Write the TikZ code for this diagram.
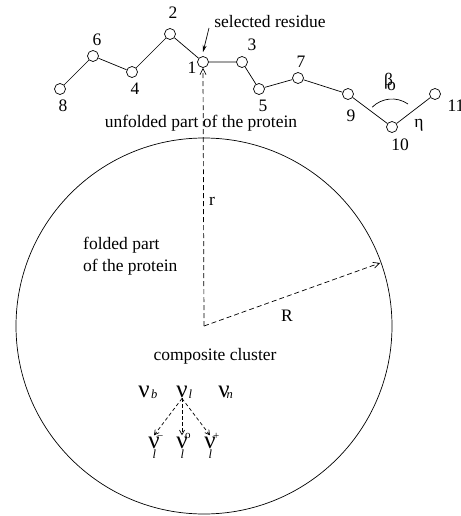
\documentclass[tikz,border=0pt]{standalone}
\usepackage{fontspec}
\setmainfont{Liberation Serif}
\usetikzlibrary{arrows.meta}
\newcommand{\bignu}{{\fontsize{25}{25}\selectfont ν}}
\newcommand{\nuTop}[2]{\bignu\rlap{\smash{\kern#2\raisebox{-1pt}{\fontsize{12.5}{12.5}\selectfont\itshape #1}}}}
\newcommand{\nuLow}[2]{\bignu\rlap{\smash{\kern-2.5pt\raisebox{#2}{\fontsize{11}{11}\selectfont #1}}}\rlap{\smash{\kern-7pt\raisebox{-10.5pt}{\fontsize{12.5}{12.5}\selectfont\itshape l}}}}
\begin{document}
\begin{tikzpicture}[x=1pt,y=1pt,
  font=\fontsize{17.5}{21}\selectfont,
  ln/.style={line width=0.7pt},
  res/.style={circle,draw,line width=0.7pt,fill=white,inner sep=0pt,minimum size=11pt},
  num/.style={inner sep=0pt},
  txt/.style={inner sep=0pt,anchor=base},
  dsh/.style={line width=0.7pt,dash pattern=on 5pt off 3pt},
  sdsh/.style={line width=0.7pt,dash pattern=on 3.5pt off 2.5pt},
  opentip/.style={-{Straight Barb[length=6pt,width=6pt]}},
  smalltip/.style={-{Straight Barb[length=4.5pt,width=5pt]}},
  nu/.style={inner sep=1pt,anchor=base}
]
\useasboundingbox (0,0) rectangle (460,-516);
% big circle
\coordinate (O) at (204,-326);
\draw[ln] (O) circle[radius=188];
% residues
\node[res] (r1) at (203,-62) {};
\node[res] (r2) at (170,-34) {};
\node[res] (r3) at (242,-62) {};
\node[res] (r4) at (132,-72) {};
\node[res] (r5) at (259,-89) {};
\node[res] (r6) at (93,-56) {};
\node[res] (r7) at (298,-78) {};
\node[res] (r8) at (60,-89) {};
\node[res] (r9) at (348,-94) {};
\node[res] (r10) at (392,-127) {};
\node[res] (r11) at (435,-94) {};
\draw[ln] (r8) -- (r6) -- (r4) -- (r2) -- (r1) -- (r3) -- (r5) -- (r7) -- (r9) -- (r10) -- (r11);
% residue numbers
\node[num] (l1) at (192,-68) {1};
\node[num] (l2) at (173,-13) {2};
\node[num] (l3) at (252,-45) {3};
\node[num] (l4) at (135,-89) {4};
\node[num] (l5) at (263,-106) {5};
\node[num] (l6) at (97,-40) {6};
\node[num] (l7) at (301,-62) {7};
\node[num] (l8) at (63,-106) {8};
\node[num] (l9) at (351,-116) {9};
\node[num] (l10) at (400,-145) {10};
\node[num] (l11) at (456,-106) {11};
% angle
\draw[ln] ([shift={(135:28)}]r10.center) arc[start angle=135,end angle=55,radius=28];
\node[inner sep=0pt,anchor=base west] (beta) at (384,-86) {β\kern-6pt\raisebox{-5pt}{o}};
\node[txt] (eta) at (419,-127) {η};
% selected residue
\node[txt] (sel) at (270,-28) {selected residue};
\coordinate (selfrom) at (209,-28);
\draw[ln,-{Stealth[length=7pt,width=4pt]}] (selfrom) -- ([yshift=4pt]r1.north);
% texts
\node[txt] (unf) at (201,-128) {unfolded part of the protein};
\node[inner sep=0pt,anchor=base west] (fold1) at (83,-249) {folded part};
\node[inner sep=0pt,anchor=base west] (fold2) at (83,-271) {of the protein};
\node[txt] (rlab) at (212,-205) {r};
\node[txt] (Rlab) at (287,-321) {R};
\node[txt] (comp) at (215,-360) {composite cluster};
% radii
\coordinate (Rtip) at ([shift={(19.7:187)}]O);
\draw[dsh,opentip] (O) -- (r1.south);
\draw[dsh,opentip] (O) -- (Rtip);
% nu's
\node[nu] (nub) at (144,-397) {\nuTop{b}{1.5pt}};
\node[nu] (nul) at (182,-397) {\nuTop{l}{1pt}};
\node[nu] (nun) at (224,-397) {\nuTop{n}{-3pt}};
\node[nu] (num) at (154,-448) {\nuLow{−}{8.5pt}};
\node[nu] (nuo) at (182,-448) {\nuLow{o}{10pt}};
\node[nu] (nup) at (210,-448) {\nuLow{+}{8.5pt}};
\draw[sdsh,smalltip] (nul.south) -- (num.north);
\draw[sdsh,smalltip] (nul.south) -- (nuo.north);
\draw[sdsh,smalltip] (nul.south) -- (nup.north);
\end{tikzpicture}
\end{document}
